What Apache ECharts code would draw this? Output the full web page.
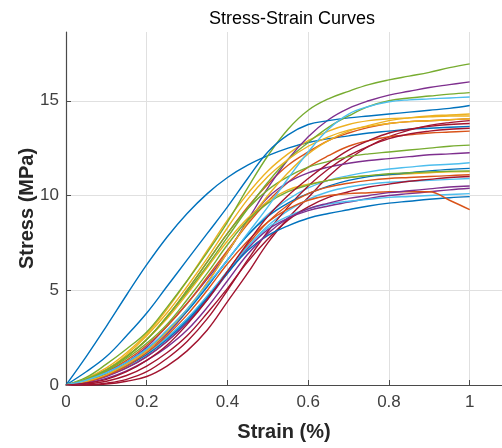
<!DOCTYPE html>
<html>
<head>
<meta charset="utf-8">
<script src="https://cdn.jsdelivr.net/npm/echarts@6/dist/echarts.min.js"></script>
<style>
  html, body { margin: 0; padding: 0; background: #fff; }
  #chart { width: 502px; height: 448px; }
</style>
</head>
<body>
<div id="chart"></div>
<script>
// strain samples (%)
const strains = [0, 0.05, 0.1, 0.15, 0.2, 0.25, 0.3, 0.35, 0.4, 0.45, 0.5,
  0.55, 0.6, 0.65, 0.7, 0.75, 0.8, 0.85, 0.9, 0.95, 1];

// stress curves (MPa), ordered so the colour cycle matches
const c01 = [0, 1.5, 3.1, 4.75, 6.35, 7.8, 9.05, 10.1, 10.95, 11.6, 12.1, 12.5, 12.8, 13.0, 13.15, 13.3, 13.4, 13.5, 13.55, 13.6, 13.65];
const c02 = [0, 0.3, 0.8, 1.5, 2.4, 3.6, 5.0, 6.5, 8.0, 9.4, 10.6, 11.6, 12.3, 12.9, 13.3, 13.6, 13.8, 13.9, 13.95, 14.0, 14.05];
const c03 = [0, 0.35, 0.9, 1.7, 2.7, 4.0, 5.5, 7.1, 8.7, 10.1, 11.3, 12.2, 12.9, 13.4, 13.75, 13.95, 14.05, 14.1, 14.15, 14.2, 14.2];
const c04 = [0, 0.2, 0.6, 1.2, 2.0, 3.1, 4.3, 5.6, 7.0, 8.7, 10.4, 11.9, 13.1, 14.0, 14.6, 15.0, 15.3, 15.5, 15.7, 15.85, 16.0];
const c05 = [0, 0.4, 1.1, 1.9, 2.8, 4.1, 5.5, 7.0, 8.6, 10.4, 12.1, 13.5, 14.5, 15.1, 15.5, 15.85, 16.1, 16.3, 16.5, 16.75, 16.95];
const c06 = [0, 0.3, 0.7, 1.2, 1.9, 2.8, 3.9, 5.2, 6.6, 7.9, 9.0, 9.8, 10.4, 10.8, 11.05, 11.25, 11.4, 11.5, 11.6, 11.65, 11.73];
const c07 = [0, 0, 0.05, 0.2, 0.45, 1.0, 1.8, 2.9, 4.4, 5.9, 7.5, 8.8, 9.9, 11.0, 11.9, 12.6, 13.1, 13.45, 13.7, 13.85, 13.95];

const c08 = [0, 0.7, 1.5, 2.6, 3.8, 5.2, 6.6, 8.0, 9.4, 10.9, 12.3, 13.2, 13.75, 13.95, 14.1, 14.2, 14.3, 14.4, 14.5, 14.6, 14.75];
const c09 = [0, 0.25, 0.7, 1.3, 2.1, 3.1, 4.3, 5.7, 7.1, 8.5, 9.7, 10.7, 11.5, 12.1, 12.6, 12.9, 13.1, 13.2, 13.3, 13.35, 13.4];
const c10 = [0, 0.3, 0.8, 1.5, 2.4, 3.5, 4.8, 6.2, 7.6, 8.8, 9.7, 10.3, 10.6, 10.8, 10.95, 11.05, 11.1, 11.15, 11.2, 11.25, 11.26];
const c11 = [0, 0.2, 0.6, 1.1, 1.8, 2.7, 3.9, 5.4, 7.0, 8.6, 9.9, 10.7, 11.2, 11.5, 11.7, 11.85, 11.95, 12.05, 12.15, 12.2, 12.26];
const c12 = [0, 0.3, 0.8, 1.5, 2.4, 3.6, 4.9, 6.3, 7.8, 9.3, 10.7, 11.9, 12.8, 13.6, 14.2, 14.7, 15.0, 15.15, 15.25, 15.35, 15.43];
const c13 = [0, 0.2, 0.6, 1.1, 1.7, 2.5, 3.5, 4.7, 6.0, 7.3, 8.4, 9.2, 9.8, 10.2, 10.45, 10.6, 10.7, 10.75, 10.8, 10.85, 10.9];
const c14 = [0, 0, 0.1, 0.3, 0.7, 1.4, 2.3, 3.5, 5.0, 6.6, 8.1, 9.4, 10.5, 11.4, 12.1, 12.6, 13.0, 13.25, 13.4, 13.5, 13.55];

const c15 = [0, 0.25, 0.65, 1.2, 1.9, 2.8, 3.9, 5.2, 6.6, 7.9, 8.9, 9.6, 10.1, 10.5, 10.8, 11.0, 11.1, 11.2, 11.3, 11.38, 11.43];
const c16 = [0, 0.2, 0.5, 0.9, 1.5, 2.3, 3.3, 4.6, 6.0, 7.4, 8.6, 9.5, 10.1, 10.45, 10.65, 10.8, 10.9, 10.95, 11.0, 11.05, 11.1];
const c17 = [0, 0.3, 0.8, 1.6, 2.6, 3.8, 5.2, 6.7, 8.3, 9.8, 11.0, 11.9, 12.6, 13.1, 13.45, 13.65, 13.8, 13.9, 13.95, 14.0, 14.05];
const c18 = [0, 0.15, 0.45, 0.9, 1.5, 2.3, 3.3, 4.5, 5.9, 7.2, 8.2, 8.8, 9.2, 9.45, 9.65, 9.85, 10.0, 10.1, 10.2, 10.3, 10.38];
const c19 = [0, 0.3, 0.8, 1.5, 2.4, 3.6, 5.0, 6.5, 8.0, 9.3, 10.3, 11.0, 11.5, 11.8, 12.05, 12.2, 12.3, 12.4, 12.5, 12.6, 12.66];
const c20 = [0, 0.25, 0.6, 1.1, 1.7, 2.5, 3.5, 4.7, 6.0, 7.3, 8.3, 8.9, 9.3, 9.55, 9.7, 9.8, 9.9, 9.95, 10.0, 10.05, 10.1];
const c21 = [0, 0.05, 0.2, 0.5, 1.0, 1.7, 2.6, 3.8, 5.1, 6.5, 7.7, 8.7, 9.4, 9.9, 10.2, 10.45, 10.6, 10.75, 10.85, 10.95, 11.0];

const c22 = [0, 0.2, 0.55, 1.0, 1.6, 2.4, 3.4, 4.6, 5.9, 7.1, 7.9, 8.4, 8.8, 9.05, 9.25, 9.45, 9.6, 9.7, 9.8, 9.88, 9.94];
const c23 = [0, 0.15, 0.5, 1.0, 1.7, 2.6, 3.7, 5.0, 6.4, 7.6, 8.6, 9.3, 9.75, 10.0, 10.1, 10.15, 10.2, 10.2, 10.2, 9.75, 9.25];
const c24 = [0, 0.2, 0.55, 1.1, 1.8, 2.8, 4.0, 5.4, 7.0, 8.6, 10.0, 11.2, 12.2, 12.9, 13.4, 13.7, 13.95, 14.1, 14.2, 14.25, 14.3];
const c25 = [0, 0.1, 0.35, 0.75, 1.3, 2.0, 2.9, 4.1, 5.5, 6.9, 8.0, 8.8, 9.3, 9.6, 9.85, 10.0, 10.15, 10.25, 10.35, 10.45, 10.5];
const c26 = [0, 0.3, 0.75, 1.4, 2.2, 3.2, 4.5, 5.9, 7.4, 8.7, 9.6, 10.2, 10.55, 10.8, 10.95, 11.05, 11.15, 11.2, 11.25, 11.28, 11.3];
const c27 = [0, 0.25, 0.65, 1.2, 1.9, 2.9, 4.0, 5.3, 6.6, 8.0, 9.4, 10.9, 12.3, 13.5, 14.3, 14.7, 14.95, 15.05, 15.1, 15.15, 15.2];
const c28 = [0, 0.1, 0.3, 0.7, 1.3, 2.1, 3.2, 4.5, 6.0, 7.5, 8.9, 10.0, 10.9, 11.7, 12.4, 12.9, 13.3, 13.5, 13.65, 13.75, 13.8];

const curves = [c01, c02, c03, c04, c05, c06, c07, c08, c09, c10, c11, c12, c13, c14,
  c15, c16, c17, c18, c19, c20, c21, c22, c23, c24, c25, c26, c27, c28];

const xTicks = [0, 0.2, 0.4, 0.6, 0.8, 1];
const yTicks = [0, 5, 10, 15];

// matlab default colour order
const palette = ['#0072BD', '#D95319', '#EDB120', '#7E2F8E', '#77AC30', '#4DBEEE', '#A2142F'];

const chart = echarts.init(document.getElementById('chart'), null, { renderer: 'canvas' });
const font = '"Liberation Sans", Arial, sans-serif';

const option = {
  animation: false,
  color: palette,
  title: {
    text: 'Stress-Strain Curves',
    left: 287,
    top: 5,
    textAlign: 'center',
    textStyle: { fontFamily: font, fontSize: 18, fontWeight: 'normal', color: '#000' }
  },
  grid: { left: 66, right: 0, top: 32, bottom: 63 },
  xAxis: {
    type: 'value',
    min: 0,
    max: 1.08,
    interval: 0.2,
    name: 'Strain (%)',
    nameLocation: 'middle',
    nameGap: 37,
    nameMoveOverlap: false,
    nameTextStyle: { fontFamily: font, fontSize: 20, fontWeight: 'bold', color: '#262626' },
    axisLine: { lineStyle: { color: '#4a4a4a', width: 1.2 } },
    axisTick: { inside: true, length: 5, lineStyle: { color: '#4a4a4a' } },
    axisLabel: {
      fontFamily: font, fontSize: 17, color: '#404040', margin: 9,
      showMaxLabel: false,
      formatter: v => xTicks.includes(+v.toFixed(2)) ? String(+v.toFixed(2)) : ''
    },
    splitLine: { show: true, showMaxLine: false, lineStyle: { color: '#e0e0e0', width: 1 } }
  },
  yAxis: {
    type: 'value',
    min: 0,
    max: 18.63,
    interval: 5,
    name: 'Stress (MPa)',
    nameLocation: 'middle',
    nameGap: 29,
    nameMoveOverlap: false,
    nameTextStyle: { fontFamily: font, fontSize: 20, fontWeight: 'bold', color: '#262626' },
    axisLine: { show: true, lineStyle: { color: '#4a4a4a', width: 1.2 } },
    axisTick: { show: true, inside: true, length: 5, lineStyle: { color: '#4a4a4a' } },
    axisLabel: {
      fontFamily: font, fontSize: 17, color: '#404040', margin: 7,
      showMaxLabel: false,
      formatter: v => yTicks.includes(v) ? String(v) : ''
    },
    splitLine: { show: true, showMaxLine: false, lineStyle: { color: '#e0e0e0', width: 1 } }
  },
  series: curves.map(ys => ({
    type: 'line',
    data: strains.map((x, i) => [x, ys[i]]),
    showSymbol: false,
    smooth: 0.4,
    lineStyle: { width: 1.4 }
  }))
};

chart.setOption(option);
</script>
</body>
</html>
